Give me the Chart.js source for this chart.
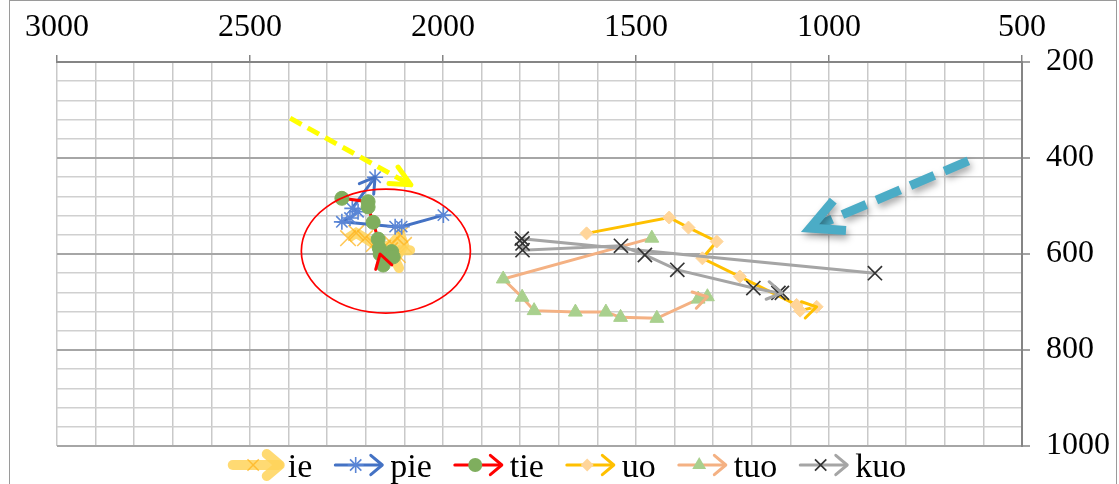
<!DOCTYPE html>
<html>
<head>
<meta charset="utf-8">
<script src="https://cdn.jsdelivr.net/npm/chart.js"></script>
<style>
  html, body { margin: 0; padding: 0; background: #fff; overflow: hidden; }
  #wrap { width: 1119px; height: 484px; position: relative; }
</style>
</head>
<body>
<div id="wrap"><canvas id="chart" width="1119" height="484"></canvas></div>
<script>
// Formant trajectories: F2 (Hz) on the top axis, F1 (Hz) on the right axis.
const F2_LABELS = [3000, 2500, 2000, 1500, 1000, 500];
const F1_LABELS = [200, 400, 600, 800, 1000];

const ieF2  = [2246, 2225, 2202, 2179, 2155, 2132, 2111, 2101, 2117, 2137];
const ieF1  = [567, 556, 567, 579, 587, 579, 560, 581, 602, 592];
const pieF2 = [1999, 2107, 2124, 2262, 2241, 2220, 2235, 2176];
const pieF1 = [519, 543, 543, 533, 525, 512, 505, 440];
const tieF2 = [2262, 2194, 2194, 2181, 2168, 2165, 2133, 2129, 2155, 2163];
const tieF1 = [484, 491, 502, 534, 569, 588, 595, 606, 623, 600];
const uoF2  = [1628, 1414, 1364, 1291, 1328, 1231, 1084, 1075, 1032];
const uoF1  = [557, 524, 545, 574, 609, 647, 706, 718, 710];
const tuoF2 = [1459, 1844, 1795, 1764, 1657, 1578, 1540, 1446, 1339, 1315];
const tuoF1 = [567, 652, 690, 718, 721, 721, 732, 734, 694, 689];
const kuoF2 = [881, 1796, 1794, 1794, 1539, 1477, 1393, 1196, 1131, 1122];
const kuoF1 = [640, 568, 578, 592, 583, 602, 633, 671, 681, 681];

// Guide shapes, in axis units (F2, F1)
const frontRegionCenter = [2148, 594];
const frontRegionRadii  = [219, 129];
const yellowCueFrom = [2396, 317];
const yellowCueTo   = [2083, 456];
const blueCueFrom   = [639, 406];
const blueCueTo     = [1049, 546];

const toPoints = (f2, f1) => f2.map((v, i) => ({ x: v, y: f1[i] }));

const series = [
  { label: 'ie',  f2: ieF2,  f1: ieF1,  line: 'rgba(255,212,90,0.85)', width: 10, marker: 'crossRot', r: 11, fill: 'rgba(255,180,30,0.75)', stroke: 'rgba(255,180,30,0.75)', mlw: 1.5, head: 20 },
  { label: 'pie', f2: pieF2, f1: pieF1, line: '#4472c4', width: 3, marker: 'star',     r: 8,   fill: '#5b86d6', stroke: '#5b86d6', mlw: 1.6, head: 17 },
  { label: 'tie', f2: tieF2, f1: tieF1, line: '#ff0000', width: 3, marker: 'circle',   r: 7,   fill: '#7fae5e', stroke: '#7fae5e', mlw: 1, head: 16 },
  { label: 'uo',  f2: uoF2,  f1: uoF1,  line: '#ffc000', width: 3, marker: 'rectRot',  r: 6.5, fill: '#ffd59a', stroke: '#ffd59a', mlw: 1, head: 16 },
  { label: 'tuo', f2: tuoF2, f1: tuoF1, line: '#f4b183', width: 3, marker: 'triangle', r: 8,   fill: '#a9d08e', stroke: '#a9d08e', mlw: 1, head: 16 },
  { label: 'kuo', f2: kuoF2, f1: kuoF1, line: '#a5a5a5', width: 3, marker: 'crossRot', r: 10,  fill: '#333333', stroke: '#333333', mlw: 1.7, head: 17 }
];

const FONT = '"Liberation Serif", "Times New Roman", serif';

// Open arrowhead with its tip at (tx, ty), pointing away from (fx, fy)
function arrowHead(ctx, fx, fy, tx, ty, len, spread, color, width) {
  const a = Math.atan2(ty - fy, tx - fx);
  ctx.save();
  ctx.setLineDash([]);
  ctx.strokeStyle = color;
  ctx.lineWidth = width;
  ctx.lineCap = 'round';
  ctx.lineJoin = 'round';
  ctx.beginPath();
  ctx.moveTo(tx - len * Math.cos(a - spread), ty - len * Math.sin(a - spread));
  ctx.lineTo(tx, ty);
  ctx.lineTo(tx - len * Math.cos(a + spread), ty - len * Math.sin(a + spread));
  ctx.stroke();
  ctx.restore();
}

function drawMarker(ctx, s, x, y) {
  const r = s.r;
  ctx.save();
  ctx.fillStyle = s.fill;
  ctx.strokeStyle = s.stroke;
  ctx.lineWidth = s.mlw;
  ctx.beginPath();
  switch (s.marker) {
    case 'circle':
      ctx.arc(x, y, r, 0, Math.PI * 2);
      ctx.fill();
      break;
    case 'triangle':
      ctx.moveTo(x, y - r);
      ctx.lineTo(x + r * 0.866, y + r * 0.5);
      ctx.lineTo(x - r * 0.866, y + r * 0.5);
      ctx.closePath();
      ctx.fill();
      break;
    case 'rectRot':
      ctx.moveTo(x, y - r);
      ctx.lineTo(x + r, y);
      ctx.lineTo(x, y + r);
      ctx.lineTo(x - r, y);
      ctx.closePath();
      ctx.fill();
      break;
    case 'star': {
      for (let k = 0; k < 4; k++) {
        const a = k * Math.PI / 4;
        ctx.moveTo(x - r * Math.cos(a), y - r * Math.sin(a));
        ctx.lineTo(x + r * Math.cos(a), y + r * Math.sin(a));
      }
      ctx.stroke();
      break;
    }
    case 'crossRot': {
      const d = r * Math.SQRT1_2;
      ctx.moveTo(x - d, y - d); ctx.lineTo(x + d, y + d);
      ctx.moveTo(x + d, y - d); ctx.lineTo(x - d, y + d);
      ctx.stroke();
      break;
    }
  }
  ctx.restore();
}

// Arrowhead at the end of every trajectory
const trajectoryArrows = {
  id: 'trajectoryArrows',
  afterDatasetDraw(chart, args) {
    const s = series[args.index];
    const pts = args.meta.data;
    const n = pts.length;
    if (n < 2) return;
    const tip = pts[n - 1];
    let k = n - 2;
    while (k > 0 && Math.hypot(pts[k].x - tip.x, pts[k].y - tip.y) < 6) k--;
    const prev = pts[k];
    arrowHead(chart.ctx, prev.x, prev.y, tip.x, tip.y, s.head, 0.55, s.line, s.width);
  }
};

// Red ellipse and the two dashed cue arrows drawn over the plot
const guideShapes = {
  id: 'guideShapes',
  afterDatasetsDraw(chart) {
    const { ctx, scales: { x, y } } = chart;
    ctx.save();
    const cx = x.getPixelForValue(frontRegionCenter[0]);
    const cy = y.getPixelForValue(frontRegionCenter[1]);
    const rx = Math.abs(x.getPixelForValue(frontRegionCenter[0] - frontRegionRadii[0]) - cx);
    const ry = Math.abs(y.getPixelForValue(frontRegionCenter[1] + frontRegionRadii[1]) - cy);
    ctx.strokeStyle = '#ff0000';
    ctx.lineWidth = 1.7;
    ctx.beginPath();
    ctx.ellipse(cx, cy, rx, ry, 0, 0, Math.PI * 2);
    ctx.stroke();

    // yellow dashed arrow
    let fx = x.getPixelForValue(yellowCueFrom[0]), fy = y.getPixelForValue(yellowCueFrom[1]);
    let tx = x.getPixelForValue(yellowCueTo[0]),   ty = y.getPixelForValue(yellowCueTo[1]);
    ctx.strokeStyle = '#ffff00';
    ctx.lineWidth = 5;
    ctx.lineCap = 'butt';
    ctx.setLineDash([13, 7]);
    ctx.beginPath();
    ctx.moveTo(fx, fy);
    ctx.lineTo(tx - 4, ty - 2);
    ctx.stroke();
    arrowHead(ctx, fx, fy, tx, ty, 22, 0.44, '#ffff00', 5);

    // blue dashed arrow with a soft shadow
    fx = x.getPixelForValue(blueCueFrom[0]); fy = y.getPixelForValue(blueCueFrom[1]);
    tx = x.getPixelForValue(blueCueTo[0]);   ty = y.getPixelForValue(blueCueTo[1]);
    ctx.save();
    ctx.shadowColor = 'rgba(0,0,0,0.35)';
    ctx.shadowBlur = 7;
    ctx.shadowOffsetX = 2;
    ctx.shadowOffsetY = 4;
    ctx.strokeStyle = '#4bacc6';
    ctx.lineWidth = 9;
    ctx.lineCap = 'butt';
    ctx.setLineDash([26, 11]);
    ctx.beginPath();
    ctx.moveTo(fx, fy);
    ctx.lineTo(tx + 8, ty - 3);
    ctx.stroke();
    ctx.setLineDash([]);
    ctx.lineJoin = 'miter';
    const a = Math.atan2(ty - fy, tx - fx);
    ctx.beginPath();
    ctx.moveTo(tx - 36 * Math.cos(a - 0.47), ty - 36 * Math.sin(a - 0.47));
    ctx.lineTo(tx, ty);
    ctx.lineTo(tx - 36 * Math.cos(a + 0.47), ty - 36 * Math.sin(a + 0.47));
    ctx.stroke();
    ctx.restore();
    ctx.restore();
  }
};

// Legend row with line + marker + arrowhead icons, and the outer frame
const legendAndFrame = {
  id: 'legendAndFrame',
  afterDraw(chart) {
    const ctx = chart.ctx;
    ctx.save();
    ctx.font = '34px ' + FONT;
    const iconW = 52, gapIcon = 6, gapItem = 20;
    const widths = series.map(s => ctx.measureText(s.label).width);
    const total = widths.reduce((t, w) => t + iconW + gapIcon + w, 0) + gapItem * (series.length - 1);
    let xPos = 568 - total / 2;
    const yLine = 465, yText = 477;
    series.forEach((s, i) => {
      const lw = s.label === 'ie' ? 10 : s.width;
      ctx.save();
      ctx.strokeStyle = s.line;
      ctx.lineWidth = lw;
      ctx.lineCap = 'round';
      ctx.beginPath();
      ctx.moveTo(xPos + 3, yLine);
      ctx.lineTo(xPos + iconW - 3, yLine);
      ctx.stroke();
      ctx.restore();
      drawMarker(ctx, Object.assign({}, s, { r: Math.min(s.r, 8) }), xPos + iconW * 0.45, yLine);
      arrowHead(ctx, xPos, yLine, xPos + iconW - 2, yLine, s.label === 'ie' ? 17 : 15, 0.7, s.line, lw);
      ctx.fillStyle = '#000';
      ctx.textBaseline = 'alphabetic';
      ctx.textAlign = 'left';
      ctx.fillText(s.label, xPos + iconW + gapIcon, yText);
      xPos += iconW + gapIcon + widths[i] + gapItem;
    });
    ctx.strokeStyle = '#9a9a9a';
    ctx.lineWidth = 1;
    ctx.strokeRect(9.5, 0.5, 1107, 495);
    ctx.restore();
  }
};

const isMajorX = v => F2_LABELS.includes(v);
const isMajorY = v => F1_LABELS.includes(v);

new Chart(document.getElementById('chart'), {
  type: 'scatter',
  data: {
    datasets: series.map((s, i) => ({
      label: s.label,
      data: toPoints(s.f2, s.f1),
      showLine: true,
      borderColor: s.line,
      borderWidth: s.width,
      backgroundColor: s.fill,
      pointStyle: s.marker,
      pointRadius: s.r,
      pointBorderColor: s.stroke,
      pointBackgroundColor: s.fill,
      pointBorderWidth: s.mlw,
      tension: 0,
      order: series.length - i
    }))
  },
  options: {
    responsive: false,
    animation: false,
    devicePixelRatio: 1,
    layout: { padding: { left: 57, right: 0, top: 0, bottom: 38 } },
    plugins: { legend: { display: false }, tooltip: { enabled: false } },
    scales: {
      x: {
        type: 'linear',
        position: 'top',
        reverse: true,
        min: 500,
        max: 3000,
        afterFit: sc => { sc.height = 62; },
        ticks: {
          stepSize: 100,
          autoSkip: false,
          maxRotation: 0,
          padding: 8,
          color: '#000',
          font: { family: FONT, size: 32 },
          callback: v => (isMajorX(v) ? String(v) : '')
        },
        grid: {
          color: '#c9c9c9',
          lineWidth: 1.5,
          drawTicks: true,
          tickLength: 7,
          tickColor: ctx => (ctx.tick && isMajorX(ctx.tick.value) ? '#858585' : 'rgba(0,0,0,0)'),
          tickWidth: 1.5
        },
        border: { display: true, color: '#858585', width: 2 }
      },
      y: {
        type: 'linear',
        position: 'right',
        reverse: true,
        min: 200,
        max: 1000,
        afterFit: sc => { sc.width = 97; },
        ticks: {
          stepSize: 40,
          autoSkip: false,
          padding: 16,
          color: '#000',
          font: { family: FONT, size: 32 },
          callback: v => (isMajorY(v) ? String(v) : '')
        },
        grid: {
          color: ctx => (ctx.tick && isMajorY(ctx.tick.value) ? '#a6a6a6' : '#d0d0d0'),
          lineWidth: ctx => (ctx.tick && isMajorY(ctx.tick.value) ? 2 : 1.5),
          drawTicks: true,
          tickLength: 8,
          tickColor: ctx => (ctx.tick && isMajorY(ctx.tick.value) ? '#858585' : 'rgba(0,0,0,0)'),
          tickWidth: 1.5
        },
        border: { display: true, color: '#858585', width: 2 }
      }
    }
  },
  plugins: [trajectoryArrows, guideShapes, legendAndFrame]
});
</script>
</body>
</html>
